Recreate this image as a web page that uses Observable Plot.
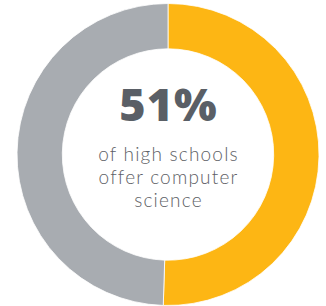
<!DOCTYPE html>
<html>
<head>
<meta charset="utf-8">
<script src="https://cdn.jsdelivr.net/npm/d3@7"></script>
<script src="https://cdn.jsdelivr.net/npm/@observablehq/plot@0.6"></script>
<style>
  html, body { margin: 0; padding: 0; background: #ffffff; }
  #chart { width: 326px; height: 306px; overflow: hidden; }
  #chart g[font-size="19"] { letter-spacing: 1.2px; }
  #chart g[font-size="45"] { letter-spacing: 1px; }
</style>
</head>
<body>
<div id="chart"></div>
<script>
const categories = ["Offer computer science", "Do not offer"];
const shares = [50.5, 49.5];
const sliceColors = ["#FDB614", "#A8ACB1"];
const headline = "51%";
const captionLines = ["of high schools", "offer computer", "science"];

const data = categories.map((c, i) => ({category: c, value: shares[i]}));

function donut(index, scales, values, dimensions) {
  const {width, height, marginLeft, marginRight, marginTop, marginBottom} = dimensions;
  const cx = marginLeft + (width - marginLeft - marginRight) / 2;
  const cy = marginTop + (height - marginTop - marginBottom) / 2;
  const outer = Math.min(width - marginLeft - marginRight, height - marginTop - marginBottom) / 2;
  const inner = outer * 0.70;
  const pie = d3.pie().sort(null).value(d => d.value)(data);
  const arc = d3.arc().innerRadius(inner).outerRadius(outer);
  const g = d3.create("svg:g").attr("transform", `translate(${cx},${cy})`);
  g.selectAll("path").data(pie).join("path")
    .attr("d", arc)
    .attr("fill", d => scales.color(d.data.category))
    .attr("stroke", "#ffffff")
    .attr("stroke-width", 0.8);
  return g.node();
}

const chart = Plot.plot({
  width: 326,
  height: 306,
  marginLeft: 17,
  marginRight: 7,
  marginTop: 3,
  marginBottom: 0,
  x: {domain: [-1, 1], axis: null},
  y: {domain: [-1, 1], axis: null},
  color: {domain: categories, range: sliceColors},
  style: {background: "#ffffff"},
  marks: [
    donut,
    Plot.text([headline], {
      x: () => 0, y: () => 0, text: d => d,
      lineAnchor: "bottom", dy: -34.5, fontSize: 45, fontWeight: 800,
      fontFamily: "Open Sans", fill: "#5A5F66"
    }),
    Plot.text([captionLines.join("\n")], {
      x: () => 0, y: () => 0, text: d => d,
      lineAnchor: "bottom", dy: 51.5, fontSize: 19, fontWeight: 300, lineHeight: 1.21,
      fontFamily: "Lato", fill: "#5E6166"
    })
  ]
});
document.getElementById("chart").append(chart);
</script>
</body>
</html>
